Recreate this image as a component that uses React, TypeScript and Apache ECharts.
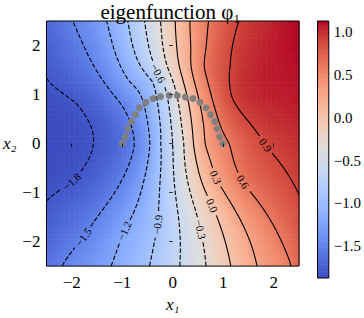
import React, { useEffect, useRef } from "react";
import * as echarts from "echarts";

// ---------------- data ----------------
const LEVELS = [-1.8, -1.5, -1.2, -0.9, -0.6, -0.3, 0.0, 0.3, 0.6, 0.9];

// points [x1, x2] where each contour line passes
const LINE_N18 = [[-2.5, 1.33], [-1.9, 0.81], [-1.57, 0.03], [-2.5, -1.17]];
const LINE_N15 = [[-1.98, 2.5], [-1.37, 1.27], [-0.76, 0.0], [-2.19, -2.5]];
const LINE_N12 = [[-1.31, 2.5], [-0.86, 1.27], [-0.45, 0.0], [-1.22, -2.5]];
const LINE_N09 = [[-0.89, 2.5], [-0.4, 1.27], [-0.24, 0.0], [-0.46, -2.5]];
const LINE_N06 = [[-0.56, 2.5], [0.0, 0.0], [0.14, -2.5]];
const LINE_N03 = [[-0.24, 2.5], [0.22, 0.0], [0.66, -2.5]];
const LINE_P00 = [[0.05, 2.5], [0.41, 0.0], [1.15, -2.5]];
const LINE_P03 = [[0.34, 2.5], [0.36, 1.92], [0.64, 0.0], [1.67, -2.5]];
const LINE_P06 = [[0.71, 2.5], [0.62, 1.59], [1.12, 0.0], [2.35, -2.5]];
const LINE_P09 = [[1.31, 2.5], [1.14, 1.59], [1.17, 0.95], [1.74, 0.12], [2.5, -1.04]];
const CONTOUR_POINTS = [LINE_N18, LINE_N15, LINE_N12, LINE_N09, LINE_N06, LINE_N03, LINE_P00, LINE_P03, LINE_P06, LINE_P09];

// values read along the frame [x1, x2, value]
const EDGE_VALUES = [
  [-2.5, 0.1, -1.87],
  [-2.5, 2.5, -1.68],
  [-2.5, -2.5, -1.62],
  [2.5, 2.5, 1.13],
  [2.5, 1.3, 1.09],
  [2.5, 0.0, 1.0],
  [2.5, -2.5, 0.72],
];

// inline contour label spots (one per level, same order as LEVELS)
const LABEL_X = [-2.0, -1.77, -0.96, -0.3, -0.3, 0.55, 0.785, 0.85, 1.39, 1.84];
const LABEL_Y = [-0.78, -1.91, -1.78, -1.66, 1.45, -1.76, -1.27, -0.68, -0.78, -0.03];

// grey sample points
const ARC_X = [-1.0, -0.94, -0.89, -0.82, -0.74, -0.66, -0.53, -0.39, -0.24, -0.07, 0.09, 0.25, 0.4, 0.54, 0.66, 0.75, 0.83, 0.88, 0.93, 0.99];
const ARC_Y = [0.0, 0.14, 0.3, 0.45, 0.59, 0.73, 0.84, 0.92, 0.96, 0.98, 0.98, 0.95, 0.92, 0.84, 0.73, 0.59, 0.45, 0.3, 0.14, 0.0];

const X_TICKS = [-2, -1, 0, 1, 2];
const Y_TICKS = [-2, -1, 0, 1, 2];
const CB_TICKS = [-1.5, -1.0, -0.5, 0.0, 0.5, 1.0];
const V_MIN = -1.87;
const V_MAX = 1.13;
const X_MIN = -2.5, X_MAX = 2.5, Y_MIN = -2.5, Y_MAX = 2.5;

// ---------------- layout / style ----------------
const W = 364, H = 318;
const GRID = { left: 42, top: 21, width: 257, height: 257 };
const CB_GRID = { left: 317.5, top: 21, width: 13, height: 257 };
const FONT = "Liberation Serif";
const NCELL = 100;
const NG = 161;
const NCB = 150;
const SMOOTH = 0.01;

const COOLWARM = [
  [59, 76, 192], [68, 90, 204], [77, 104, 215], [87, 117, 225], [98, 130, 234], [108, 142, 241],
  [119, 154, 247], [130, 165, 251], [141, 176, 254], [152, 185, 255], [163, 194, 255], [174, 201, 253],
  [184, 208, 249], [194, 213, 244], [204, 217, 238], [213, 219, 230], [221, 221, 221], [229, 216, 209],
  [236, 211, 197], [241, 204, 185], [245, 196, 173], [247, 187, 160], [247, 177, 148], [247, 166, 135],
  [244, 154, 123], [241, 141, 111], [236, 127, 99], [229, 112, 88], [222, 96, 77], [213, 80, 66],
  [203, 62, 56], [192, 40, 47], [180, 4, 38],
];

function cmap(v: number): string {
  let t = (v - V_MIN) / (V_MAX - V_MIN);
  t = Math.max(0, Math.min(1, t));
  const s = t * 32;
  const i = Math.min(31, Math.floor(s));
  const f = s - i;
  const a = COOLWARM[i], b = COOLWARM[i + 1];
  const c = [0, 1, 2].map((k) => Math.round(a[k] + f * (b[k] - a[k])));
  return `rgb(${c[0]},${c[1]},${c[2]})`;
}

function fitSurface(pts: number[][], lambda: number) {
  const n = pts.length, m = n + 3;
  const ker = (dx: number, dy: number) => {
    const r2 = dx * dx + dy * dy;
    return r2 > 1e-12 ? 0.5 * r2 * Math.log(r2) : 0;
  };
  const A: number[][] = [];
  for (let i = 0; i < m; i++) A.push(new Array(m + 1).fill(0));
  for (let i = 0; i < n; i++) {
    for (let j = 0; j < n; j++) A[i][j] = ker(pts[i][0] - pts[j][0], pts[i][1] - pts[j][1]) + (i === j ? lambda : 0);
    A[i][n] = 1; A[i][n + 1] = pts[i][0]; A[i][n + 2] = pts[i][1];
    A[n][i] = 1; A[n + 1][i] = pts[i][0]; A[n + 2][i] = pts[i][1];
    A[i][m] = pts[i][2];
  }
  for (let c = 0; c < m; c++) {
    let p = c;
    for (let r = c + 1; r < m; r++) if (Math.abs(A[r][c]) > Math.abs(A[p][c])) p = r;
    const tmp = A[c]; A[c] = A[p]; A[p] = tmp;
    const d = A[c][c];
    for (let r = 0; r < m; r++) {
      if (r === c) continue;
      const f = A[r][c] / d;
      if (f === 0) continue;
      for (let q = c; q <= m; q++) A[r][q] -= f * A[c][q];
    }
  }
  const w = A.map((row, i) => row[m] / row[i]);
  return (x: number, y: number) => {
    let s = w[n] + w[n + 1] * x + w[n + 2] * y;
    for (let i = 0; i < n; i++) s += w[i] * ker(x - pts[i][0], y - pts[i][1]);
    return s;
  };
}

function traceLevel(G: number[][], h: number, L: number): number[][][] {
  const pts = new Map<string, number[]>();
  const adj = new Map<string, string[]>();
  const link = (a: string, b: string) => {
    if (!adj.has(a)) adj.set(a, []);
    if (!adj.has(b)) adj.set(b, []);
    adj.get(a)!.push(b);
    adj.get(b)!.push(a);
  };
  const ep = (key: string, xa: number, ya: number, va: number, xb: number, yb: number, vb: number) => {
    if (!pts.has(key)) {
      const t = (L - va) / (vb - va);
      pts.set(key, [xa + t * (xb - xa), ya + t * (yb - ya)]);
    }
    return key;
  };
  for (let j = 0; j < NG - 1; j++) {
    for (let i = 0; i < NG - 1; i++) {
      const x0 = X_MIN + i * h, x1 = x0 + h, y0 = Y_MIN + j * h, y1 = y0 + h;
      const bl = G[j][i], br = G[j][i + 1], tr = G[j + 1][i + 1], tl = G[j + 1][i];
      const c = (bl > L ? 1 : 0) | (br > L ? 2 : 0) | (tr > L ? 4 : 0) | (tl > L ? 8 : 0);
      if (c === 0 || c === 15) continue;
      const B = () => ep(`h${i},${j}`, x0, y0, bl, x1, y0, br);
      const R = () => ep(`v${i + 1},${j}`, x1, y0, br, x1, y1, tr);
      const T = () => ep(`h${i},${j + 1}`, x0, y1, tl, x1, y1, tr);
      const Lf = () => ep(`v${i},${j}`, x0, y0, bl, x0, y1, tl);
      const center = (bl + br + tr + tl) / 4;
      switch (c) {
        case 1: case 14: link(Lf(), B()); break;
        case 2: case 13: link(B(), R()); break;
        case 3: case 12: link(Lf(), R()); break;
        case 4: case 11: link(R(), T()); break;
        case 6: case 9: link(B(), T()); break;
        case 7: case 8: link(Lf(), T()); break;
        case 5:
          if (center > L) { link(B(), R()); link(Lf(), T()); } else { link(Lf(), B()); link(R(), T()); }
          break;
        case 10:
          if (center > L) { link(Lf(), B()); link(R(), T()); } else { link(B(), R()); link(Lf(), T()); }
          break;
      }
    }
  }
  const used = new Set<string>();
  const sk = (a: string, b: string) => (a < b ? a + "|" + b : b + "|" + a);
  const walk = (start: string) => {
    const line = [pts.get(start)!];
    let cur = start;
    for (;;) {
      const nb = (adj.get(cur) || []).find((k) => !used.has(sk(cur, k)));
      if (nb === undefined) break;
      used.add(sk(cur, nb));
      line.push(pts.get(nb)!);
      cur = nb;
    }
    return line;
  };
  const lines: number[][][] = [];
  adj.forEach((list, k) => {
    if (list.length === 1 && !used.has(sk(k, list[0]))) lines.push(walk(k));
  });
  adj.forEach((list, k) => {
    list.forEach((nb) => {
      if (!used.has(sk(k, nb))) lines.push(walk(k));
    });
  });
  return lines.filter((l) => l.length > 1);
}

const fmtSigned = (v: number, d: number) => (v < 0 ? "\u2212" : "") + Math.abs(v).toFixed(d);

function buildOption() {
  const samples: number[][] = [];
  LEVELS.forEach((L, k) => {
    CONTOUR_POINTS[k].forEach((p) => samples.push([p[0], p[1], L]));
    samples.push([LABEL_X[k], LABEL_Y[k], L]);
  });
  EDGE_VALUES.forEach((p) => samples.push(p));
  const f = fitSurface(samples, SMOOTH);

  // heat cells
  const cell = (X_MAX - X_MIN) / NCELL;
  const cells: number[][] = [];
  const cellColors: string[] = [];
  for (let j = 0; j < NCELL; j++) {
    for (let i = 0; i < NCELL; i++) {
      const x = X_MIN + (i + 0.5) * cell, y = Y_MIN + (j + 0.5) * cell;
      const v = f(x, y);
      cells.push([x, y, v]);
      cellColors.push(cmap(v));
    }
  }

  // contour grid
  const h = (X_MAX - X_MIN) / (NG - 1);
  const G: number[][] = [];
  for (let j = 0; j < NG; j++) {
    const row: number[] = [];
    for (let i = 0; i < NG; i++) row.push(f(X_MIN + i * h, Y_MIN + j * h));
    G.push(row);
  }
  const pxPerUnit = GRID.width / (X_MAX - X_MIN);
  const labelFont = 11;
  const series: any[] = [];
  const labelItems: { x: number; y: number; rot: number; text: string }[] = [];

  LEVELS.forEach((L, k) => {
    let lines = traceLevel(G, h, L);
    const text = fmtSigned(L, 1);
    let best = Infinity, bl = -1, bi = -1;
    lines.forEach((ln, li) => ln.forEach((p, pi) => {
      const d = Math.hypot(p[0] - LABEL_X[k], p[1] - LABEL_Y[k]);
      if (d < best) { best = d; bl = li; bi = pi; }
    }));
    if (bl >= 0 && best < 0.4) {
      const ln = lines[bl];
      const p = ln[bi];
      const a = ln[Math.max(0, bi - 4)], b = ln[Math.min(ln.length - 1, bi + 4)];
      let rot = Math.atan2(b[1] - a[1], b[0] - a[0]);
      if (rot > Math.PI / 2) rot -= Math.PI;
      if (rot < -Math.PI / 2) rot += Math.PI;
      labelItems.push({ x: p[0], y: p[1], rot, text });
      let wEm = 0;
      for (const ch of text) wEm += ch === "\u2212" ? 0.564 : ch === "." ? 0.25 : 0.5;
      const r = (wEm * labelFont) / 2 + 3;
      const ru = r / pxPerUnit;
      const out: number[][][] = [];
      lines.forEach((line) => {
        let cur: number[][] = [];
        line.forEach((q) => {
          if (Math.hypot(q[0] - p[0], q[1] - p[1]) < ru) {
            if (cur.length > 1) out.push(cur);
            cur = [];
          } else cur.push(q);
        });
        if (cur.length > 1) out.push(cur);
      });
      lines = out;
    }
    lines.forEach((ln) => {
      series.push({
        type: "line",
        xAxisIndex: 0,
        yAxisIndex: 0,
        data: ln,
        symbol: "none",
        showSymbol: false,
        silent: true,
        clip: true,
        z: 3,
        lineStyle: { color: "#000", width: 1.1, type: L < 0 ? [4.5, 2] : "solid" },
      });
    });
  });

  const heat = {
    type: "custom",
    xAxisIndex: 0,
    yAxisIndex: 0,
    data: cells,
    clip: true,
    silent: true,
    z: 1,
    progressive: 0,
    renderItem: (params: any, api: any) => {
      const x = api.value(0), y = api.value(1);
      const p0 = api.coord([x - cell / 2, y + cell / 2]);
      const p1 = api.coord([x + cell / 2, y - cell / 2]);
      return {
        type: "rect",
        shape: { x: p0[0], y: p0[1], width: p1[0] - p0[0] + 0.6, height: p1[1] - p0[1] + 0.6 },
        style: { fill: cellColors[params.dataIndex] },
      };
    },
  };

  const dv = (V_MAX - V_MIN) / NCB;
  const cbData: number[][] = [];
  for (let k = 0; k < NCB; k++) cbData.push([0.5, V_MIN + (k + 0.5) * dv]);
  const colorbar = {
    type: "custom",
    xAxisIndex: 1,
    yAxisIndex: 1,
    data: cbData,
    clip: true,
    silent: true,
    z: 1,
    progressive: 0,
    renderItem: (params: any, api: any) => {
      const v = api.value(1);
      const p0 = api.coord([0, v + dv / 2]);
      const p1 = api.coord([1, v - dv / 2]);
      return {
        type: "rect",
        shape: { x: p0[0], y: p0[1], width: p1[0] - p0[0], height: p1[1] - p0[1] + 0.6 },
        style: { fill: cmap(v) },
      };
    },
  };

  const frame = (xi: number, yi: number, pt: number[]) => ({
    type: "custom",
    xAxisIndex: xi,
    yAxisIndex: yi,
    data: [pt],
    clip: false,
    silent: true,
    z: 10,
    renderItem: (params: any) => {
      const c = params.coordSys;
      return {
        type: "rect",
        shape: { x: c.x, y: c.y, width: c.width, height: c.height },
        style: { fill: "none", stroke: "#000", lineWidth: 1 },
      };
    },
  });

  const labels = {
    type: "custom",
    xAxisIndex: 0,
    yAxisIndex: 0,
    data: labelItems.map((l) => [l.x, l.y]),
    clip: false,
    silent: true,
    z: 6,
    renderItem: (params: any, api: any) => {
      const it = labelItems[params.dataIndex];
      const p = api.coord([api.value(0), api.value(1)]);
      return {
        type: "text",
        x: p[0],
        y: p[1],
        rotation: it.rot,
        style: { text: it.text, align: "center", verticalAlign: "middle", font: `11px ${FONT}`, fill: "#000" },
      };
    },
  };

  const dots = {
    type: "scatter",
    xAxisIndex: 0,
    yAxisIndex: 0,
    data: ARC_X.map((x, i) => [x, ARC_Y[i]]),
    symbolSize: 7,
    itemStyle: { color: "#808080", opacity: 1 },
    silent: true,
    z: 5,
  };

  const tickStyle = { color: "#000", width: 0.8 };
  const axisText = { fontFamily: FONT, fontSize: 17, color: "#000" };

  return {
    animation: false,
    backgroundColor: "#fff",
    textStyle: { fontFamily: FONT },
    title: {
      text: "eigenfunction \u03c6\u2081",
      left: GRID.left + GRID.width / 2,
      top: 1,
      padding: 0,
      textAlign: "center",
      textStyle: { fontFamily: FONT, fontSize: 21, fontWeight: "normal", color: "#000" },
    },
    grid: [
      { ...GRID, containLabel: false },
      { ...CB_GRID, containLabel: false },
    ],
    xAxis: [
      {
        gridIndex: 0,
        type: "value",
        min: X_MIN,
        max: X_MAX,
        z: 8,
        axisLine: { show: false },
        splitLine: { show: false },
        axisTick: { show: true, customValues: X_TICKS, length: 3.5, lineStyle: tickStyle },
        axisLabel: { customValues: X_TICKS, formatter: (v: number) => fmtSigned(v, 0), margin: 8, ...axisText },
        name: "x\u2081",
        nameLocation: "middle",
        nameGap: 35,
        nameTextStyle: { ...axisText, fontStyle: "italic", verticalAlign: "middle" },
      },
      { gridIndex: 1, type: "value", min: 0, max: 1, show: false },
    ],
    yAxis: [
      {
        gridIndex: 0,
        type: "value",
        min: Y_MIN,
        max: Y_MAX,
        z: 8,
        axisLine: { show: false },
        splitLine: { show: false },
        axisTick: { show: true, customValues: Y_TICKS, length: 3.5, lineStyle: tickStyle },
        axisLabel: { customValues: Y_TICKS, formatter: (v: number) => fmtSigned(v, 0), margin: 6, ...axisText },
        name: "x\u2082",
        nameLocation: "middle",
        nameRotate: 0,
        nameGap: 20,
        nameTextStyle: { ...axisText, fontStyle: "italic" },
      },
      {
        gridIndex: 1,
        type: "value",
        position: "right",
        min: V_MIN,
        max: V_MAX,
        axisLine: { show: false },
        splitLine: { show: false },
        axisTick: { show: true, customValues: CB_TICKS, length: 3.5, lineStyle: tickStyle },
        axisLabel: { customValues: CB_TICKS, formatter: (v: number) => fmtSigned(v, 1), margin: 5, fontFamily: FONT, fontSize: 15, color: "#000" },
      },
    ],
    series: [heat, ...series, dots, labels, frame(0, 0, [0, 0]), colorbar, frame(1, 1, [0.5, 0])],
  };
}

export default function App() {
  const ref = useRef<HTMLDivElement>(null);
  useEffect(() => {
    if (!ref.current) return;
    const chart = echarts.init(ref.current, undefined, { renderer: "svg" });
    chart.setOption(buildOption() as any);
    return () => chart.dispose();
  }, []);
  return <div ref={ref} style={{ position: "absolute", left: 0, top: 0, width: W, height: H }} />;
}
